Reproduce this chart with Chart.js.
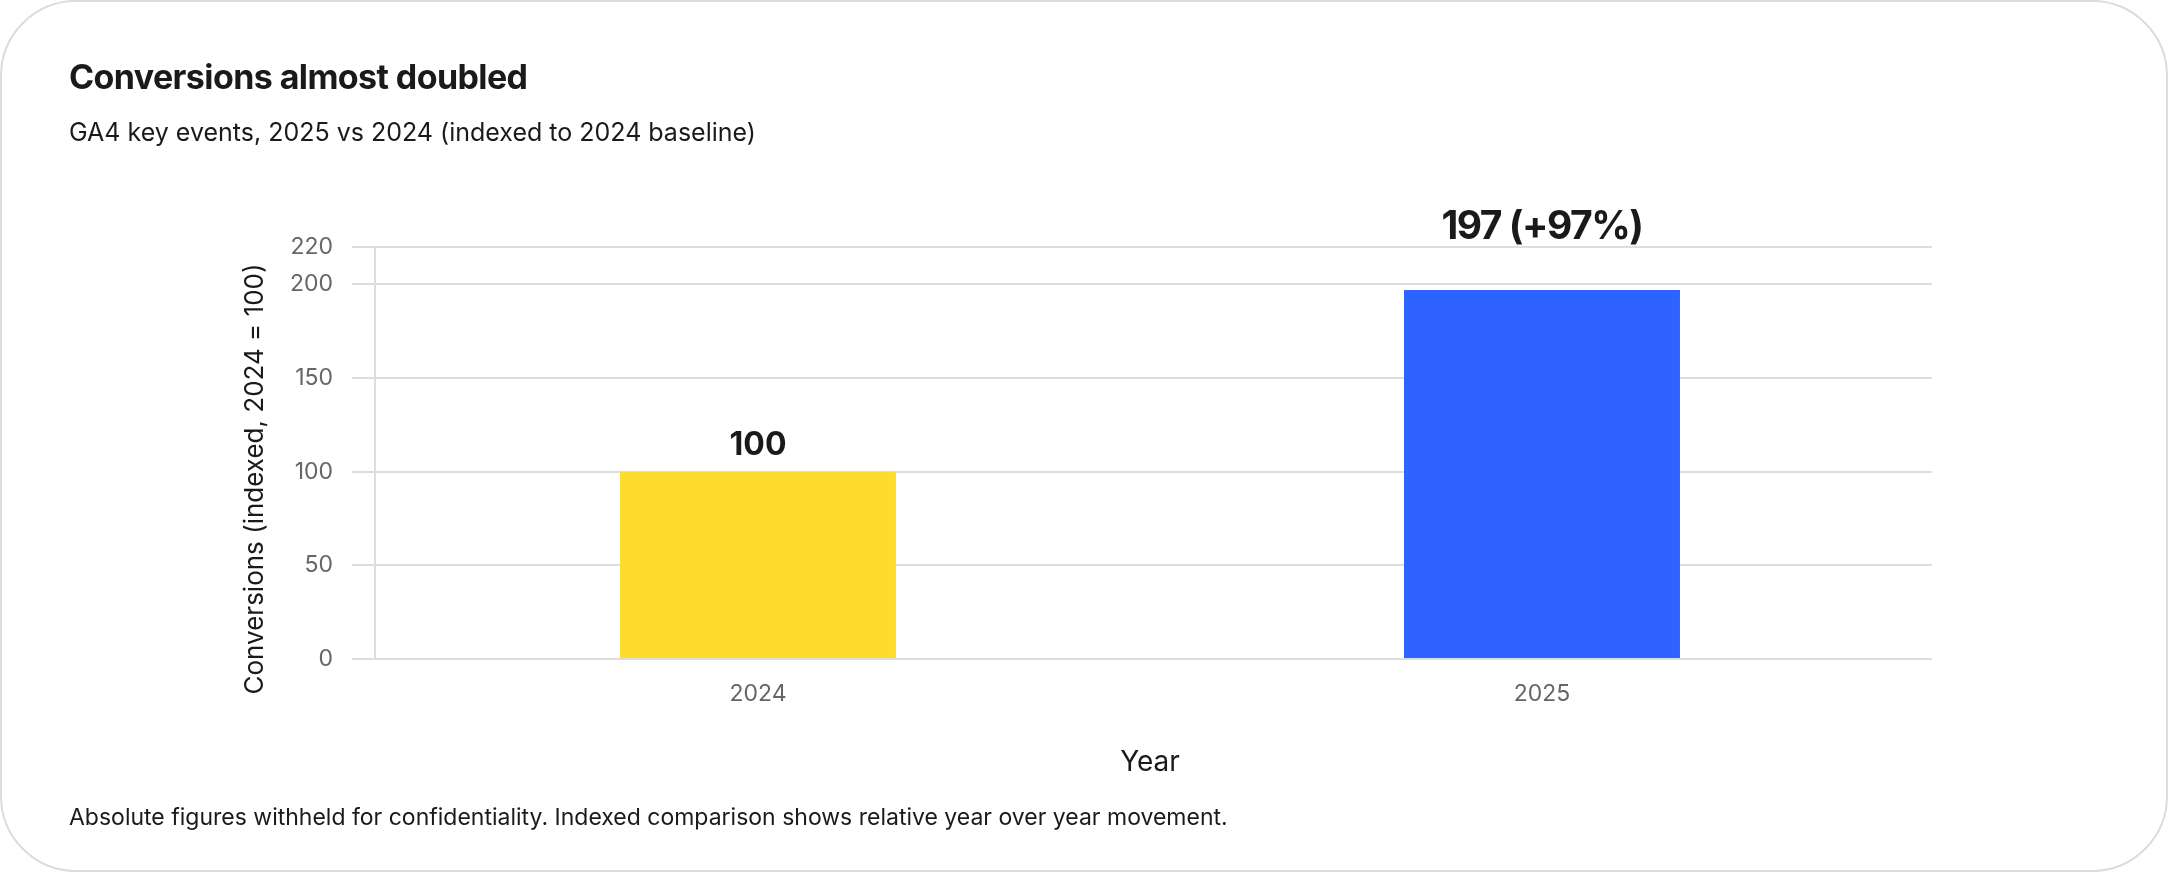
<!DOCTYPE html>
<html>
<head>
<meta charset="utf-8">
<script src="https://cdn.jsdelivr.net/npm/chart.js@4.4.1/dist/chart.umd.min.js"></script>
<style>
  html, body { margin: 0; padding: 0; background: #fff; }
  body { width: 2168px; height: 872px; position: relative; overflow: hidden; font-family: Inter, "Noto Sans", sans-serif; color: #1a1a1a; }
  .card { position: absolute; left: 0; top: 0; width: 2168px; height: 872px; box-sizing: border-box; border: 2px solid #dcdcdc; border-radius: 76px; background: #fff; }
  .title { position: absolute; left: 69px; top: 60px; font-size: 34px; font-weight: 700; line-height: 1; letter-spacing: -0.6px; white-space: nowrap; }
  .subtitle { position: absolute; left: 69px; top: 120px; font-size: 25px; line-height: 1; white-space: nowrap; }
  .note { position: absolute; left: 69px; top: 806px; font-size: 23px; line-height: 1; white-space: nowrap; }
  .wrap { position: absolute; left: 0; top: 0; width: 2168px; height: 872px; }
</style>
</head>
<body>
<div class="card"></div>
<div class="wrap"><canvas id="convChart"></canvas></div>
<div class="title">Conversions almost doubled</div>
<div class="subtitle">GA4 key events, 2025 vs 2024 (indexed to 2024 baseline)</div>
<div class="note">Absolute figures withheld for confidentiality. Indexed comparison shows relative year over year movement.</div>
<script>
// chart data
const years = ['2024', '2025'];
const indexValues = [100, 197];
const barLabels = ['100', '197 (+97%)'];
const yTicks = [0, 50, 100, 150, 200, 220];
const yTitle = 'Conversions (indexed, 2024 = 100)';
const barColors = ['#FEDC2E', '#2E63FF'];

Chart.defaults.font.family = 'Inter';

// value labels above the bars
const valueLabels = {
  id: 'valueLabels',
  afterDatasetsDraw(chart, args, opts) {
    const ctx = chart.ctx;
    const meta = chart.getDatasetMeta(0);
    ctx.save();
    ctx.fillStyle = '#1a1a1a';
    ctx.textAlign = 'center';
    ctx.textBaseline = 'alphabetic';
    meta.data.forEach((bar, i) => {
      ctx.font = '700 ' + opts.sizes[i] + 'px Inter';
      ctx.letterSpacing = opts.spacing[i] + 'px';
      ctx.fillText(barLabels[i], bar.x, bar.y - opts.offsets[i]);
    });
    ctx.restore();
  }
};

// y axis title, sits a bit lower than the scale centre
const yAxisTitle = {
  id: 'yAxisTitle',
  afterDraw(chart, args, opts) {
    const ctx = chart.ctx;
    const area = chart.chartArea;
    const y = chart.scales.y;
    ctx.save();
    ctx.translate(y.left + opts.inset, (area.top + area.bottom) / 2 + opts.shift);
    ctx.rotate(-Math.PI / 2);
    ctx.font = opts.size + 'px Inter';
    ctx.fillStyle = '#1a1a1a';
    ctx.textAlign = 'center';
    ctx.textBaseline = 'middle';
    ctx.fillText(yTitle, 0, 0);
    ctx.restore();
  }
};

// the category band runs a little wider than the gridlines
const widenX = {
  id: 'widenX',
  afterLayout(chart, args, opts) {
    const x = chart.scales.x;
    x.left -= opts.left;
    x.right += opts.right;
    x.width = x.right - x.left;
    x.configure();
  }
};

const ctx = document.getElementById('convChart').getContext('2d');
const convChart = new Chart(ctx, {
  type: 'bar',
  data: {
    labels: years,
    datasets: [{
      data: indexValues,
      backgroundColor: barColors,
      borderWidth: 0,
      barPercentage: 1,
      categoryPercentage: 0.352
    }]
  },
  options: {
    responsive: true,
    maintainAspectRatio: false,
    animation: false,
    layout: {
      padding: { left: 220, right: 236, top: 247, bottom: 83 }
    },
    plugins: {
      legend: { display: false },
      tooltip: { enabled: false },
      valueLabels: {
        sizes: [32, 39],
        spacing: [0, -1.5],
        offsets: [17, 51]
      },
      yAxisTitle: { size: 26, inset: 35, shift: 26 },
      widenX: { left: 9, right: 2 }
    },
    scales: {
      x: {
        grid: { display: false, drawTicks: false },
        border: { display: false },
        ticks: { color: '#666', font: { size: 23 }, padding: 21 },
        title: { display: true, text: 'Year', color: '#1a1a1a', font: { size: 28 }, padding: { top: 0, bottom: 10 } },
        afterFit(scale) { scale.height = 130; }
      },
      y: {
        min: 0,
        max: 220,
        grid: { color: '#dddddd', lineWidth: 2, tickLength: 23 },
        border: { display: true, color: '#dddddd', width: 2 },
        ticks: { color: '#666', font: { size: 23 }, padding: 19 },
        afterBuildTicks(scale) { scale.ticks = yTicks.map(v => ({ value: v })); },
        afterFit(scale) { scale.width = 155; }
      }
    }
  },
  plugins: [valueLabels, yAxisTitle, widenX]
});
</script>
</body>
</html>
